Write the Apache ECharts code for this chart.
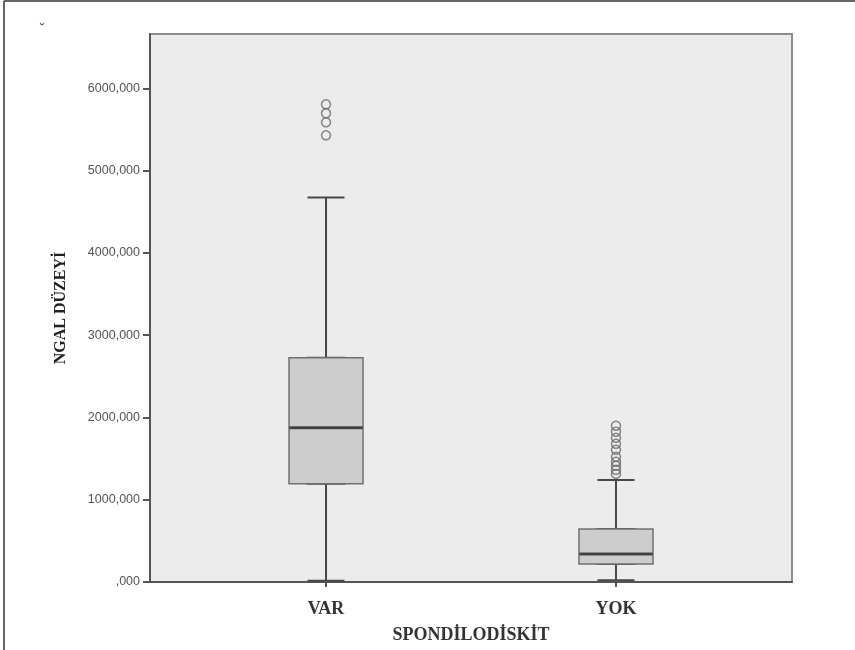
<!DOCTYPE html>
<html>
<head>
<meta charset="utf-8">
<script src="https://cdn.jsdelivr.net/npm/echarts@6/dist/echarts.min.js"></script>
<style>
html,body{margin:0;padding:0;background:#fff;}
#chart{width:855px;height:650px;}
</style>
</head>
<body>
<div id="chart"></div>
<script>
var categories = ['VAR', 'YOK'];
var boxMin = [15, 20];
var boxQ1 = [1195, 219];
var boxMedian = [1874, 341];
var boxQ3 = [2726, 645];
var boxMax = [4673, 1241];
var outliersVAR = [5805, 5696, 5586, 5428];
var outliersYOK = [1899, 1826, 1752, 1679, 1606, 1521, 1460, 1412, 1363, 1314];
var yTicks = [0, 1000, 2000, 3000, 4000, 5000, 6000];

var boxData = categories.map(function (c, i) { return [i, boxQ1[i], boxQ1[i], boxMedian[i], boxQ3[i], boxQ3[i]]; });
var whiskerData = categories.map(function (c, i) { return [i, boxMin[i], boxQ1[i], boxQ1[i], boxQ3[i], boxMax[i]]; });
var medianData = categories.map(function (c, i) { return [i, boxMedian[i]]; });
var outlierData = outliersVAR.map(function (v) { return [0, v]; })
  .concat(outliersYOK.map(function (v) { return [1, v]; }));

var chart = echarts.init(document.getElementById('chart'), null, {renderer: 'canvas'});
var xBase = {
  type: 'value', min: -0.607, max: 1.607, splitLine: {show: false}
};
chart.setOption({
  animation: false,
  backgroundColor: '#ffffff',
  graphic: [
    {type: 'line', shape: {x1: 4, y1: 1, x2: 4, y2: 650}, style: {stroke: '#333', lineWidth: 1.5}},
    {type: 'line', shape: {x1: 4, y1: 1, x2: 855, y2: 1}, style: {stroke: '#333', lineWidth: 1.5}},
    {type: 'text', left: 40, top: 23, style: {text: '˘', fill: '#555', font: '14px "Liberation Sans"'}}
  ],
  grid: {
    left: 150, top: 34, right: 63, bottom: 68,
    show: true, backgroundColor: '#ececec', borderColor: '#8c8c8c', borderWidth: 2
  },
  xAxis: [
    Object.assign({}, xBase, {
      position: 'bottom',
      name: 'SPONDİLODİSKİT',
      nameLocation: 'middle',
      nameGap: 44,
      nameTextStyle: {fontFamily: 'Liberation Serif', fontWeight: 'bold', fontSize: 18, color: '#333'},
      axisLine: {show: true, onZero: false, lineStyle: {color: '#555', width: 2}},
      axisTick: {show: true, length: 5, customValues: [0, 1], lineStyle: {color: '#555', width: 2}},
      axisLabel: {
        customValues: [0, 1], margin: 18,
        fontFamily: 'Liberation Serif', fontWeight: 'bold', fontSize: 18, color: '#333',
        formatter: function (v) { return categories[Math.round(v)] || ''; }
      }
    }),
    Object.assign({}, xBase, {position: 'top', show: false})
  ],
  yAxis: {
    type: 'value', min: 0, max: 6660,
    position: 'left',
    name: 'NGAL DÜZEYİ',
    nameLocation: 'middle',
    nameGap: 81,
    nameTextStyle: {fontFamily: 'Liberation Serif', fontWeight: 'bold', fontSize: 16, color: '#222'},
    splitLine: {show: false},
    axisLine: {show: true, onZero: false, lineStyle: {color: '#555', width: 2}},
    axisTick: {show: true, length: 7, customValues: yTicks, lineStyle: {color: '#555', width: 2}},
    axisLabel: {
      customValues: yTicks, margin: 10,
      fontFamily: 'Liberation Sans', fontSize: 12.5, color: '#555',
      formatter: function (v) { return v === 0 ? ',000' : v + ',000'; }
    }
  },
  series: [
    {
      type: 'boxplot', layout: 'horizontal', xAxisIndex: 1, yAxisIndex: 0,
      encode: {x: 0, y: [1, 2, 3, 4, 5]},
      boxWidth: [37, 37], z: 2,
      itemStyle: {color: '#cdcdcd', borderColor: '#484848', borderWidth: 2},
      data: whiskerData
    },
    {
      type: 'boxplot', layout: 'horizontal', xAxisIndex: 0, yAxisIndex: 0,
      encode: {x: 0, y: [1, 2, 3, 4, 5]},
      boxWidth: [74, 74], z: 3,
      itemStyle: {color: '#cdcdcd', borderColor: '#707070', borderWidth: 1.5},
      data: boxData
    },
    {
      type: 'scatter', xAxisIndex: 0, yAxisIndex: 0, z: 4,
      symbol: 'rect', symbolSize: [73, 3],
      itemStyle: {color: '#2e2e2e'},
      data: medianData
    },
    {
      type: 'scatter', xAxisIndex: 0, yAxisIndex: 0, z: 5,
      symbol: 'circle', symbolSize: 9,
      itemStyle: {color: 'rgba(0,0,0,0)', borderColor: '#6a6a6a', borderWidth: 1.5},
      data: outlierData
    }
  ]
});
</script>
</body>
</html>
